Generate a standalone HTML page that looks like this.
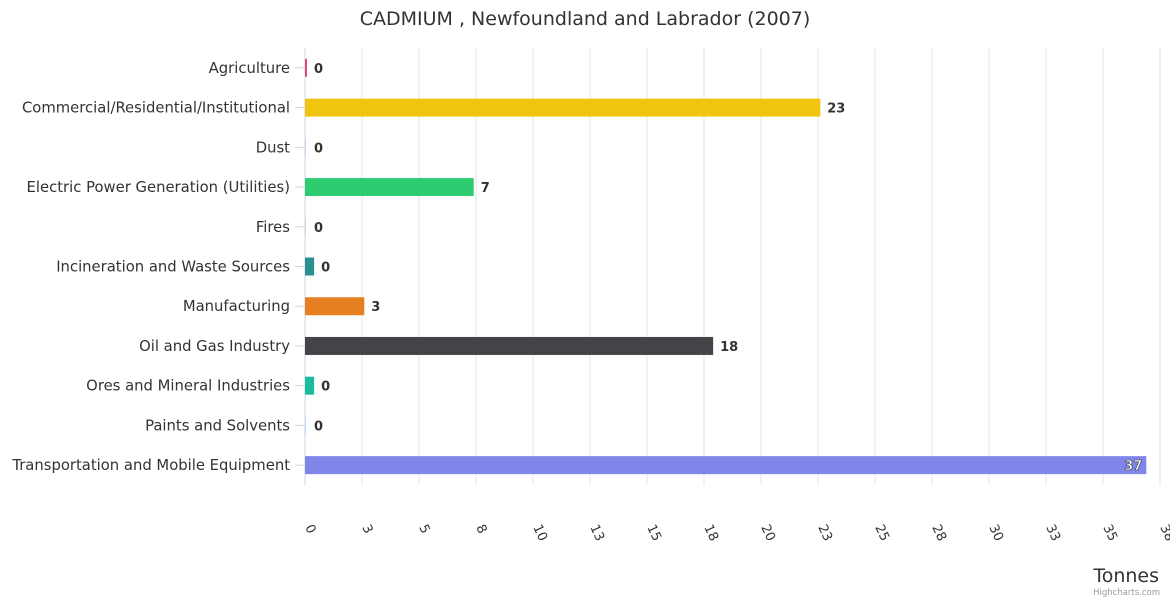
<!DOCTYPE html>
<html><head><meta charset="utf-8"><style>
body{margin:0;background:#fff;font-family:"DejaVu Sans","Liberation Sans",sans-serif}
text{font-family:"DejaVu Sans","Liberation Sans",sans-serif}
</style></head><body>
<svg id="c" width="1170" height="600" xmlns="http://www.w3.org/2000/svg">
<text x="585" y="25" text-anchor="middle" font-size="19" fill="#333">CADMIUM , Newfoundland and Labrador (2007)</text>
<g id="grid"></g><g id="bars"></g><g id="ylab"></g><g id="xlab"></g>
<text x="1159" y="582" text-anchor="end" font-size="19" fill="#333">Tonnes</text>
<text x="1160" y="595" text-anchor="end" font-size="8.5" fill="#999">Highcharts.com</text>
</svg>
<script>
const categories=["Agriculture","Commercial/Residential/Institutional","Dust","Electric Power Generation (Utilities)","Fires","Incineration and Waste Sources","Manufacturing","Oil and Gas Industry","Ores and Mineral Industries","Paints and Solvents","Transportation and Mobile Equipment"];
const values=[0.05,22.6,0.01,7.4,0.01,0.4,2.6,17.9,0.4,0.01,36.9];
const labels=["0","23","0","7","0","0","3","18","0","0","37"];
const colors=["#e0467c","#f1c40f","#9b59b6","#2ecc71","#e74c3c","#2b908f","#e67e22","#434348","#1abc9c","#3498db","#7f85e9"];
const tickValues=[0,2.5,5,7.5,10,12.5,15,17.5,20,22.5,25,27.5,30,32.5,35,37.5];
const tickLabels=["0","3","5","8","10","13","15","18","20","23","25","28","30","33","35","38"];
const X0=305,X1=1160,Y0=48,Y1=485,MAX=37.5;
const xs=v=>X0+v/MAX*(X1-X0);
const band=(Y1-Y0)/categories.length;
const yc=i=>Y0+band*(i+0.5);
const NS="http://www.w3.org/2000/svg";
function mk(tag,p,attrs){const e=document.createElementNS(NS,tag);for(const k in attrs)e.setAttribute(k,attrs[k]);p.appendChild(e);return e;}
const G=document.getElementById('grid'),B=document.getElementById('bars'),YL=document.getElementById('ylab'),XL=document.getElementById('xlab');
tickValues.forEach((t,i)=>{
 const x=xs(t);
 const l=mk('line',G,{x1:x,x2:x,y1:Y0,y2:Y1,stroke:i==0?'#ccd6eb':'#e6e6e6','stroke-width':1});
 
 
 const tx=mk('text',XL,{x:0,y:0,'font-size':13,fill:'#333',transform:`translate(${x},${Y1+42}) rotate(65)`});
 tx.textContent=tickLabels[i];
 
 
});
categories.forEach((c,i)=>{
 const y=yc(i);
 const tk=mk('line',G,{x1:X0-10,x2:X0,y1:y,y2:y,stroke:'#ccd6eb'});
 
 
 const t=mk('text',YL,{x:290,y:y+5,'text-anchor':'end','font-size':14.8,fill:'#333'});
 t.textContent=c;
 
 
 const w=Math.max(xs(values[i])-X0,values[i]>0.02?2:0);
 const r=mk('rect',B,{x:X0,y:y-9,width:w,height:18,fill:colors[i]});
 
 
 const inside=xs(values[i])>X1-40;
 const lx=inside?xs(values[i])-4:Math.max(xs(values[i]),X0+2)+7;
 const v=mk('text',B,{x:lx,y:y+5,'text-anchor':inside?'end':'start','font-size':13,'font-weight':'bold',fill:inside?'#fff':'#333',stroke:inside?'#333':'none','stroke-width':inside?0.6:0});
 v.textContent=labels[i];
 
 
});
</script>
</body></html>
